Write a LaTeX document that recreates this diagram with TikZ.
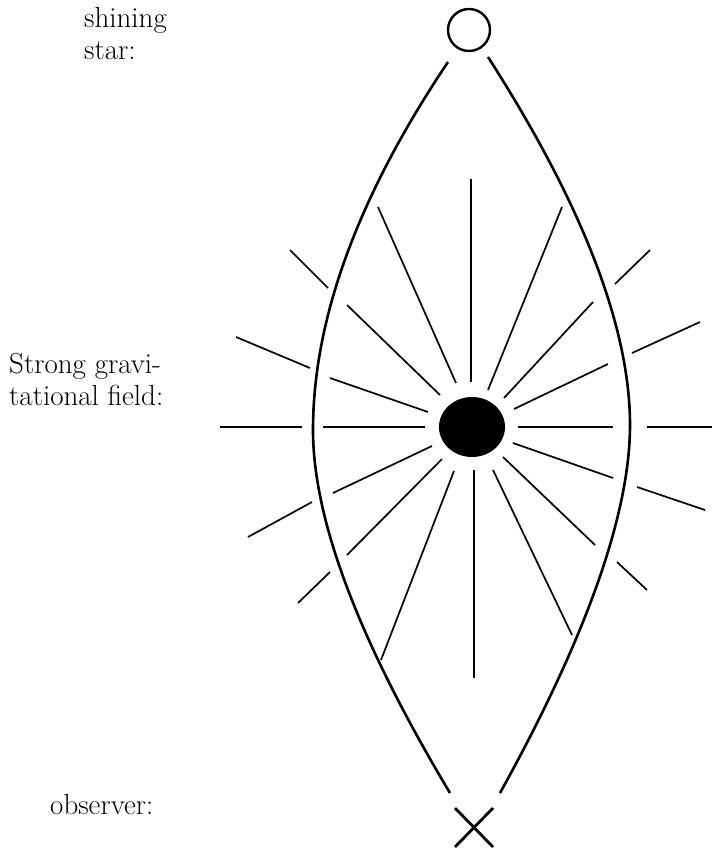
\documentclass[tikz,border=0pt]{standalone}
\begin{document}
\begin{tikzpicture}[x=1pt,y=-1pt,
  lbl/.style={anchor=base west,inner sep=0pt,font=\fontsize{29}{32}\selectfont},
  lens/.style={line width=2.6pt},
  ray/.style={line width=1.7pt},
  starc/.style={draw,circle,line width=2.4pt,minimum size=42pt,inner sep=0pt}]
\useasboundingbox (0,0) rectangle (712,852);
% labels
\node[lbl] (l1a) at (84,27) {shining};
\node[lbl] (l1b) at (84,59) {star:};
\node[lbl] (l2a) at (9,373) {Strong gravi-};
\node[lbl] (l2b) at (9,405) {tational field:};
\node[lbl] (l3) at (50,814) {observer:};
% star, hole
\node[starc] (star) at (469,30) {};
\fill (472,427) ellipse [x radius=33pt, y radius=30pt];
\coordinate (hole) at (472,427);
% observer
\coordinate (obs) at (474,828);
\draw[line width=2.8pt] (455,808) -- (493,847) (455,847) -- (493,808);
% lens curves
\coordinate (lt) at (448,62);
\coordinate (lm) at (313,430);
\coordinate (lb) at (450,793);
\coordinate (rt) at (488,57);
\coordinate (rm) at (630,425);
\coordinate (rb) at (500,793);
\draw[lens] (lt) .. controls (358,196) and (313,319) .. (lm)
                 .. controls (313,520) and (359,641) .. (lb);
\draw[lens] (rt) .. controls (583,205) and (630,328) .. (rm)
                 .. controls (630,513) and (587,636) .. (rb);
% inner rays
\draw[ray] (471,179) -- (471,382);
\draw[ray] (474,470) -- (474,678);
\draw[ray] (323,427) -- (425,427);
\draw[ray] (518,427) -- (613,427);
\draw[ray] (378,207) -- (456,383);
\draw[ray] (347,305) -- (440,395);
\draw[ray] (330,378) -- (428,412);
\draw[ray] (562,207) -- (488,390);
\draw[ray] (593,302) -- (504,398);
\draw[ray] (608,364) -- (514,409);
\draw[ray] (432,446) -- (333,493);
\draw[ray] (442,459) -- (347,555);
\draw[ray] (454,471) -- (381,660);
\draw[ray] (513,443) -- (613,478);
\draw[ray] (503,457) -- (595,545);
\draw[ray] (493,470) -- (572,635);
% outer rays
\draw[ray] (220,427) -- (302,427);
\draw[ray] (647,427) -- (712,427);
\draw[ray] (236,337) -- (310,368);
\draw[ray] (290,250) -- (328,288);
\draw[ray] (632,353) -- (700,322);
\draw[ray] (615,284) -- (650,250);
\draw[ray] (312,502) -- (248,537);
\draw[ray] (330,572) -- (298,603);
\draw[ray] (637,487) -- (705,510);
\draw[ray] (617,562) -- (647,590);
\end{tikzpicture}
\end{document}
